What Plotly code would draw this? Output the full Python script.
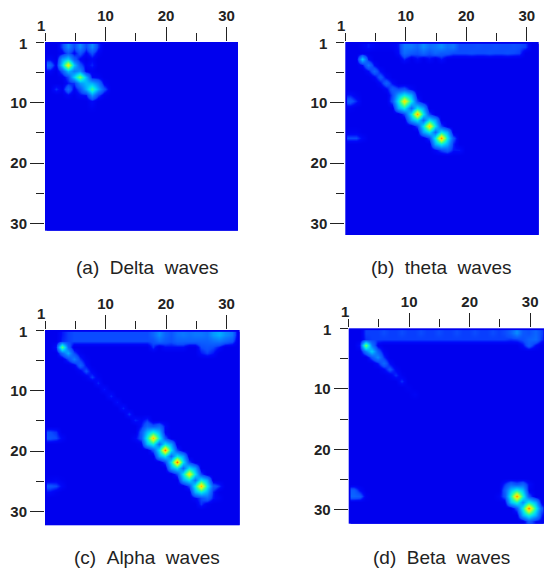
import plotly.graph_objects as go

W, H = 549, 569
N = 32

# Each strip: (row, first column, values along the row); unlisted cells are 0.
delta_strips = [
    (1, 3, [.09, .24, .10, .24, .10, .24, .08]),
    (2, 3, [.03, .12, .04, .12, .04, .11, .03]),
    (3, 1, [.04, .00, .26, .36, .14, .04, .00, .04]),
    (4, 1, [.16, .02, .36, .80, .34, .12, .03, .07]),
    (5, 1, [.04, .00, .12, .32, .20, .24, .02, .02]),
    (6, 3, [.02, .10, .36, .62, .32, .04, .03]),
    (7, 4, [.06, .08, .26, .32, .30, .20, .03]),
    (8, 2, [.08, .02, .18, .03, .12, .30, .52, .30, .12]),
    (9, 4, [.04, .00, .05, .06, .26, .10, .02]),
    (10, 8, [.05]),
    (11, 8, [.02]),
]

theta_strips = [
    (1, 3, [.03, .06, .03, .02, .02, .03, .06, .20, .20, .16, .24, .18, .20, .24, .18, .20, .10,
            .10, .10, .11, .10, .10, .11, .10, .10, .11, .10, .09]),
    (2, 9, [.05, .17, .13, .11, .16, .11, .16, .13, .13, .10, .10, .10, .11, .10, .10, .11, .10,
            .10, .11, .10, .09]),
    (3, 3, [.36, .05, .00, .00, .00, .00, .00, .07, .00, .05, .00, .05, .00, .06]),
    (4, 3, [.05, .20, .05]),
    (5, 4, [.05, .16, .05]),
    (6, 5, [.04, .13, .04]),
    (7, 6, [.05, .15, .05]),
    (9, 1, [.06, .02]),
    (10, 1, [.13, .07]),
    (11, 1, [.02]),
    (15, 1, [.02, .02]),
    (16, 1, [.10, .10, .04]),
    (8, 7, [.04, .14, .10, .12, .04]),
    (9, 8, [.10, .30, .42, .30, .02]),
    (10, 8, [.12, .42, .82, .42, .10]),
    (11, 9, [.30, .42, .16, .40, .28]),
    (12, 10, [.10, .40, .90, .40, .10]),
    (13, 11, [.28, .40, .16, .40, .28]),
    (14, 12, [.10, .40, .84, .40, .10]),
    (15, 13, [.28, .40, .16, .42, .30]),
    (16, 14, [.10, .42, .92, .42, .12]),
    (17, 15, [.30, .42, .30, .07]),
    (18, 15, [.04, .10, .14, .06, .06]),
]

alpha_strips = [
    (1, 3, [.06, .09, .10, .10, .10, .10, .10, .10, .10, .10, .10, .10, .10, .10, .10, .16, .24,
            .16, .12, .18, .20, .18, .20, .20, .18, .26, .30, .24, .20]),
    (2, 3, [.07, .09, .10, .10, .10, .10, .10, .10, .10, .10, .10, .10, .10, .10, .10, .11, .17,
            .13, .11, .15, .15, .15, .15, .15, .15, .18, .20, .16, .12]),
    (3, 2, [.06, .58, .16, .00, .00, .00, .00, .00, .00, .00, .00, .00, .00, .00, .00, .00,
            .08, .00, .05, .05, .05, .05, .00, .00, .10, .12, .10, .06]),
    (4, 3, [.16, .30, .10, .02]),
    (4, 26, [.06, .09, .06]),
    (5, 4, [.10, .22, .08, .02]),
    (6, 5, [.03, .15, .05]),
    (7, 6, [.03, .11, .03]),
    (8, 7, [.02, .09, .02]),
    (9, 9, [.07]),
    (10, 10, [.06]),
    (11, 11, [.07]),
    (12, 12, [.06]),
    (13, 13, [.07]),
    (14, 14, [.08]),
    (15, 15, [.07, .04, .08]),
    (17, 1, [.10, .08]),
    (18, 1, [.12, .10, .04]),
    (25, 1, [.02, .03, .01]),
    (26, 1, [.12, .10, .04]),
    (27, 1, [.05, .02]),
    (16, 16, [.06, .16, .12, .16, .05]),
    (17, 16, [.12, .32, .44, .32, .03]),
    (18, 15, [.04, .12, .44, .86, .44, .12]),
    (19, 16, [.02, .32, .44, .16, .40, .28]),
    (20, 18, [.12, .40, .94, .40, .10]),
    (21, 19, [.28, .40, .16, .40, .28]),
    (22, 20, [.10, .40, .96, .40, .10]),
    (23, 21, [.28, .40, .16, .40, .28]),
    (24, 22, [.10, .40, .80, .40, .10]),
    (25, 23, [.28, .40, .18, .42, .30]),
    (26, 24, [.10, .42, .88, .42, .14, .08]),
    (27, 25, [.30, .42, .30, .07]),
    (28, 25, [.04, .10, .16, .06, .03]),
    (29, 26, [.08, .02]),
]

beta_strips = [
    (1, 3, [.09, .09, .09, .10, .09, .09, .10, .09, .09, .10, .09, .09, .10, .09, .09, .10,
            .09, .09, .10, .09, .09, .10, .09, .10, .15, .24, .13, .11, .16, .09]),
    (2, 3, [.08, .09, .09, .09, .09, .09, .09, .09, .09, .09, .09, .09, .09, .09, .09, .09, .09,
            .09, .09, .09, .09, .09, .09, .09, .08, .09, .11, .15, .17, .08]),
    (3, 2, [.06, .62, .20, .03]),
    (3, 29, [.05, .14, .05]),
    (4, 3, [.20, .36, .14, .03]),
    (5, 4, [.12, .24, .08]),
    (6, 5, [.06, .17, .05]),
    (7, 6, [.04, .12, .04]),
    (8, 7, [.02, .08, .02]),
    (9, 9, [.08]),
    (10, 10, [.02]),
    (11, 11, [.03]),
    (27, 1, [.14, .05]),
    (28, 1, [.16, .14, .02]),
    (26, 26, [.08, .16, .12, .16, .05]),
    (27, 26, [.14, .34, .46, .34, .03]),
    (28, 25, [.03, .12, .46, .92, .46, .12]),
    (29, 26, [.02, .34, .46, .24, .44, .30]),
    (30, 28, [.12, .44, .94, .44, .12]),
    (31, 29, [.30, .44, .30, .06]),
    (32, 30, [.14, .05, .03]),
]

panel_strips = [delta_strips, theta_strips, alpha_strips, beta_strips]
captions = ["(a)\u00a0\u00a0Delta\u00a0\u00a0waves", "(b)\u00a0\u00a0theta\u00a0\u00a0waves",
            "(c)\u00a0\u00a0Alpha\u00a0\u00a0waves", "(d)\u00a0\u00a0Beta\u00a0\u00a0waves"]
# plot rectangles in pixels: left, right, top, bottom
boxes = [(45, 238, 42, 230.7), (345.3, 538.7, 42, 235), (45, 239.7, 330, 525.3), (348.7, 544, 328.3, 523.7)]
caption_pos = [(147, 267), (441, 267), (147, 557), (441.5, 557)]
major_ticks = [10, 20, 30]
major_text = ["10", "20", "30"]
minor_ticks = [0, 5, 15, 25]
cmap = [[0, "#0000ee"], [.05, "#0008fa"], [.10, "#0a4cff"], [.20, "#0a78ff"], [.30, "#00b0ff"],
        [.40, "#00e4f0"], [.52, "#30ff98"], [.68, "#b0ff30"], [.80, "#ffe800"], [.90, "#ffa000"], [1, "#ff2000"]]
INK = "#222222"
PX = 6.05


def build(strips):
    z = [[0.0] * N for _ in range(N)]
    for row, first, vals in strips:
        for k, v in enumerate(vals):
            z[row - 1][first - 1 + k] = v
    return z


fig = go.Figure()
font = dict(family="Liberation Sans", size=15, color=INK, weight="bold")
axis_kw = dict(tickmode="array", tickvals=major_ticks, ticktext=major_text, ticks="outside", ticklen=14,
               tickwidth=1.3, tickcolor=INK, tickfont=font, showgrid=False, zeroline=False, showline=False,
               minor=dict(tickmode="array", tickvals=minor_ticks, ticks="outside", ticklen=8,
                          tickwidth=1.3, tickcolor=INK, showgrid=False))
for i, (strips, box, cap, cp) in enumerate(zip(panel_strips, boxes, captions, caption_pos)):
    s = "" if i == 0 else str(i + 1)
    l, r, t, b = box
    fig.add_trace(go.Heatmap(z=build(strips), x=[c + 0.8 for c in range(N)], y=[c + 0.8 for c in range(N)],
                             xaxis="x" + s, yaxis="y" + s, zmin=0, zmax=1, colorscale=cmap,
                             zsmooth="best", showscale=False))
    fig.layout["xaxis" + s] = dict(domain=[l / W, r / W], range=[0, (r - l) / PX], side="top",
                                   anchor="y" + s, **axis_kw)
    fig.layout["yaxis" + s] = dict(domain=[1 - b / H, 1 - t / H], range=[(b - t) / PX, 0],
                                   anchor="x" + s, **axis_kw)
    fig.add_annotation(text="1", xref="paper", yref="paper", x=(l - 4) / W, y=1 - (t - 17) / H,
                       showarrow=False, font=font, xanchor="center", yanchor="middle")
    fig.add_annotation(text="1", xref="paper", yref="paper", x=(l - 22) / W, y=1 - (t + 1) / H,
                       showarrow=False, font=font, xanchor="center", yanchor="middle")
    fig.add_annotation(text=cap, xref="paper", yref="paper", x=cp[0] / W, y=1 - cp[1] / H, showarrow=False,
                       font=dict(family="Liberation Sans", size=19, color="#222222"),
                       xanchor="center", yanchor="middle")

fig.update_layout(width=W, height=H, margin=dict(l=0, r=0, t=0, b=0), paper_bgcolor="white",
                  plot_bgcolor="#0000ee", showlegend=False)
fig.write_html("out.html", config=dict(displayModeBar=False),
               post_script="document.body.style.margin='0';document.documentElement.style.overflow='hidden';")
